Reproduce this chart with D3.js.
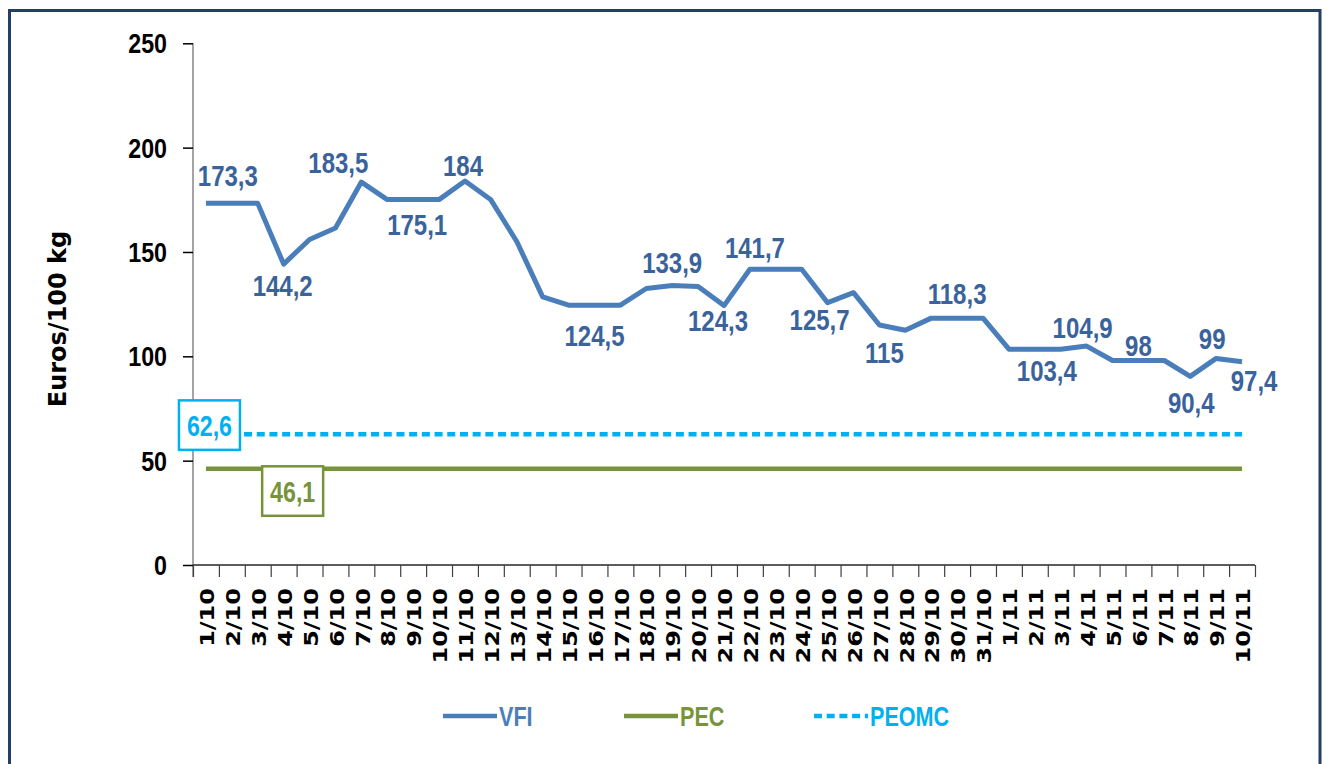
<!DOCTYPE html>
<html>
<head>
<meta charset="utf-8">
<script src="https://cdn.jsdelivr.net/npm/d3@7"></script>
<style>
  body { margin: 0; background: #fff; }
  svg { display: block; }
</style>
</head>
<body>
<div id="chart"></div>
<script>
// ---- data ----
const days = [
  '1/10', '2/10', '3/10', '4/10', '5/10', '6/10', '7/10', '8/10', '9/10', '10/10',
  '11/10', '12/10', '13/10', '14/10', '15/10', '16/10', '17/10', '18/10', '19/10', '20/10',
  '21/10', '22/10', '23/10', '24/10', '25/10', '26/10', '27/10', '28/10', '29/10', '30/10',
  '31/10', '1/11', '2/11', '3/11', '4/11', '5/11', '6/11', '7/11', '8/11', '9/11', '10/11'
];
const vfi = [
  173.3, 173.3, 173.3, 144.2, 156, 161.5, 183.5, 175.1, 175.1, 175.1,
  184, 175, 155, 128.5, 124.5, 124.5, 124.5, 132.5, 133.9, 133.5,
  124.3, 141.7, 141.7, 141.7, 125.7, 130.5, 115, 112.5, 118.3, 118.3,
  118.3, 103.4, 103.4, 103.4, 104.9, 98, 98, 98, 90.4, 99, 97.4
];
const pecValue = 46.1;
const peomcValue = 62.6;
const pec = days.map(() => pecValue);
const peomc = days.map(() => peomcValue);
const yTicks = [0, 50, 100, 150, 200, 250];
const vfiLabelIdx = [1, 3, 6, 8, 10, 15, 18, 20, 21, 24, 26, 29, 32, 34, 36, 38, 39, 40];
const seriesNames = ['VFI', 'PEC', 'PEOMC'];
const yTitle = 'Euros/100 kg';

// ---- layout ----
const width = 1327, height = 764;
const plotLeft = 193, plotRight = 1255, plotTop = 43.3, plotBottom = 565;
const blue = '#4a7ebb', blueText = '#3a639c', green = '#77933c', cyan = '#00b0f0';

const svg = d3.select('#chart').append('svg')
  .attr('width', width)
  .attr('height', height);

// frame
svg.append('rect')
  .attr('x', 9.5).attr('y', 10.5)
  .attr('width', 1310.5).attr('height', 800)
  .attr('fill', 'none')
  .attr('stroke', '#243f66')
  .attr('stroke-width', 3);

const x = d3.scaleBand().domain(days).range([plotLeft, plotRight]);
const xEdge = d3.scaleLinear().domain([0, days.length]).range([plotLeft, plotRight]);
const y = d3.scaleLinear().domain([0, 250]).range([plotBottom, plotTop]);
const cx = d => x(d) + x.bandwidth() / 2;

// helper: text drawn in a scaled group (the picture's type is stretched)
function label(parent, px, py, txt, opts) {
  const g = parent.append('g')
    .attr('transform', `translate(${px},${py}) rotate(${opts.rotate || 0}) scale(${opts.sx || 1},${opts.sy || 1})`);
  return g.append('text')
    .attr('y', (opts.fs || 20) * 0.36)
    .attr('text-anchor', opts.anchor || 'middle')
    .attr('font-family', opts.family || '"Liberation Sans", Arial, sans-serif')
    .attr('font-weight', opts.weight || 'bold')
    .attr('font-size', opts.fs || 20)
    .attr('fill', opts.fill || '#000')
    .text(txt);
}
const fmt = v => String(v).replace('.', ',');

// y axis
const yAxis = svg.append('g')
  .attr('transform', `translate(${plotLeft},0)`)
  .call(d3.axisLeft(y).tickValues(yTicks).tickSize(10).tickFormat(''));
yAxis.select('.domain').attr('stroke', '#868686').attr('stroke-width', 1.5)
  .attr('d', `M0,${plotTop}V${plotBottom + 12}`);
yAxis.selectAll('.tick line').attr('stroke', '#000').attr('stroke-width', 1.5);

yTicks.forEach(t => label(svg, 167, y(t), t, { anchor: 'end', fs: 28, sx: 0.83 }));

label(svg, 57, 319, yTitle, {
  rotate: -90, fs: 24, family: '"DejaVu Sans", Verdana, sans-serif'
});

// x axis (ticks between categories)
const xAxis = svg.append('g')
  .attr('transform', `translate(0,${plotBottom})`)
  .call(d3.axisBottom(xEdge).tickValues(d3.range(days.length + 1)).tickSize(12).tickFormat(''));
xAxis.select('.domain').attr('stroke', '#262626').attr('stroke-width', 1.5)
  .attr('d', `M${plotLeft},0H${plotRight}`);
xAxis.selectAll('.tick line').attr('stroke', '#404040').attr('stroke-width', 1.2);

days.forEach(d => label(svg, cx(d) + 1, 588, d, {
  rotate: -90, anchor: 'end', fs: 20, sx: 1.2,
  family: '"DejaVu Sans", Verdana, sans-serif'
}));

// lines
const line = d3.line().x((v, i) => cx(days[i])).y(v => y(v));

svg.append('path').datum(pec)
  .attr('d', line).attr('fill', 'none')
  .attr('stroke', green).attr('stroke-width', 4.5);

svg.append('path').datum(peomc)
  .attr('d', line).attr('fill', 'none')
  .attr('stroke', cyan).attr('stroke-width', 4.5)
  .attr('stroke-dasharray', '8,4.7');

svg.append('path').datum(vfi)
  .attr('d', line).attr('fill', 'none')
  .attr('stroke', blue).attr('stroke-width', 5)
  .attr('stroke-linejoin', 'round');

// VFI data labels
const vfiLabelShift = {
  1: [-4, -28], 3: [-1, 21], 6: [-23, -20], 8: [4, 25], 10: [-2, -16],
  15: [0, 30], 18: [0, -23], 20: [-6, 15], 21: [5, -22], 24: [-8, 17],
  26: [5, 27], 29: [0, -25], 32: [12, 21], 34: [-4, -19], 36: [0, -15],
  38: [1, 26], 39: [-4, -20], 40: [12, 18]
};
vfiLabelIdx.forEach(i => {
  const [dx, dy] = vfiLabelShift[i];
  label(svg, cx(days[i]) + dx, y(vfi[i]) + dy, fmt(vfi[i]), { fs: 30, sx: 0.8, fill: blueText });
});

// boxed labels for the reference lines
function boxLabel(px, py, txt, color) {
  svg.append('rect')
    .attr('x', px - 30.5).attr('y', py - 24.5)
    .attr('width', 61).attr('height', 49.5)
    .attr('fill', '#fff')
    .attr('stroke', color).attr('stroke-width', 2.5);
  label(svg, px, py + 1, txt, { fs: 29, sx: 0.8, fill: color });
}
boxLabel(cx(days[0]) + 3.5, y(peomc[0]) - 9.5, fmt(peomcValue), cyan);
boxLabel(cx(days[3]) + 9, y(pec[3]) + 22, fmt(pecValue), green);

// legend
const legendX = [443, 624, 814];
const legendColors = [blue, green, cyan];
const legendY = 716;
seriesNames.forEach((name, i) => {
  svg.append('line')
    .attr('x1', legendX[i]).attr('x2', legendX[i] + 54)
    .attr('y1', legendY).attr('y2', legendY)
    .attr('stroke', legendColors[i]).attr('stroke-width', 4.5)
    .attr('stroke-dasharray', i === 2 ? '8,4.7' : null);
  label(svg, legendX[i] + 56, legendY, name, {
    anchor: 'start', fs: 27, sx: 0.8, fill: legendColors[i]
  });
});
</script>
</body>
</html>
